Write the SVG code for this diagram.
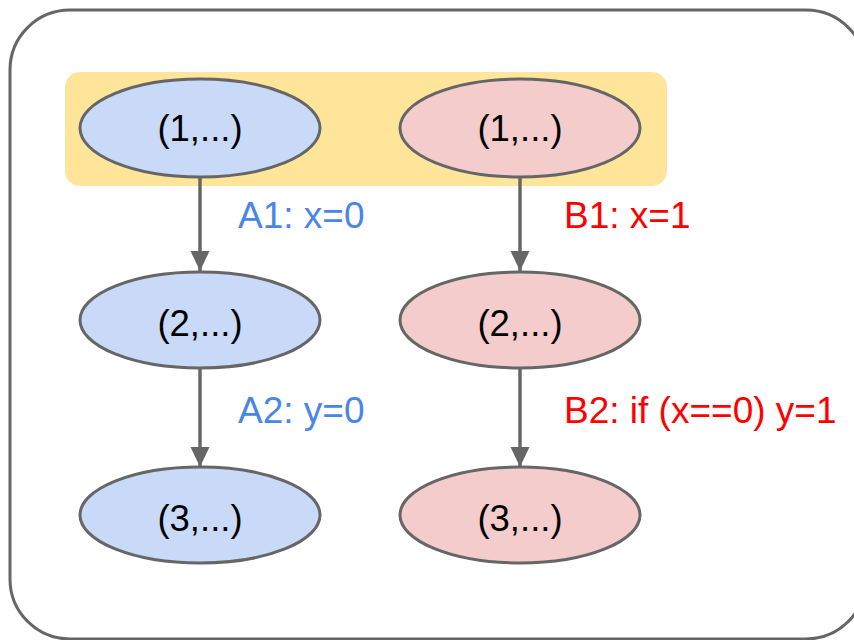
<svg xmlns="http://www.w3.org/2000/svg" width="854" height="640" viewBox="0 0 854 640">
<defs>
<style>
.frame{fill:#ffffff;stroke:#666666;stroke-width:3}
.blue{fill:#C9DAF8;stroke:#666666;stroke-width:3}
.red{fill:#F4CCCC;stroke:#666666;stroke-width:3}
.nt{font-family:"Liberation Sans",Arial,sans-serif;font-size:36.5px;fill:#000000;text-anchor:middle}
.lbl{font-family:"Liberation Sans",Arial,sans-serif;font-size:37px}
.edge{stroke:#666666;stroke-width:3.5;fill:none;marker-end:url(#ah)}
</style>
<marker id="ah" viewBox="0 0 20 24" refX="20" refY="12" markerWidth="20" markerHeight="24" markerUnits="userSpaceOnUse" orient="auto">
<path d="M0,2.5 L20,12 L0,21.5 Z" fill="#666666"/>
</marker>
</defs>
<rect class="frame" x="10" y="10" width="856" height="629" rx="60" ry="60"/>
<rect id="highlight" x="65" y="72" width="602" height="114" rx="15" ry="15" fill="#FFE599"/>
<g id="connectors">
<line class="edge" x1="200" y1="177" x2="200" y2="271"/>
<line class="edge" x1="200" y1="368" x2="200" y2="467"/>
<line class="edge" x1="520" y1="177" x2="520" y2="271"/>
<line class="edge" x1="520" y1="368" x2="520" y2="467"/>
<text class="lbl" x="238" y="228" fill="#4A86E8">A1: x=0</text>
<text class="lbl" x="238" y="423" fill="#4A86E8">A2: y=0</text>
<text class="lbl" x="564" y="228" fill="#FF0000">B1: x=1</text>
<text class="lbl" x="564" y="423" fill="#FF0000">B2: if (x==0) y=1</text>
</g>
<g id="A1"><ellipse class="blue" cx="200" cy="128" rx="120" ry="49"/><text class="nt" x="200" y="141">(1,...)</text></g>
<g id="A2"><ellipse class="blue" cx="200" cy="320" rx="120" ry="48"/><text class="nt" x="200" y="336">(2,...)</text></g>
<g id="A3"><ellipse class="blue" cx="200" cy="515" rx="120" ry="48"/><text class="nt" x="200" y="531">(3,...)</text></g>
<g id="B1"><ellipse class="red" cx="520" cy="128" rx="120" ry="49"/><text class="nt" x="520" y="141">(1,...)</text></g>
<g id="B2"><ellipse class="red" cx="520" cy="320" rx="120" ry="48"/><text class="nt" x="520" y="336">(2,...)</text></g>
<g id="B3"><ellipse class="red" cx="520" cy="515" rx="120" ry="48"/><text class="nt" x="520" y="531">(3,...)</text></g>
</svg>
